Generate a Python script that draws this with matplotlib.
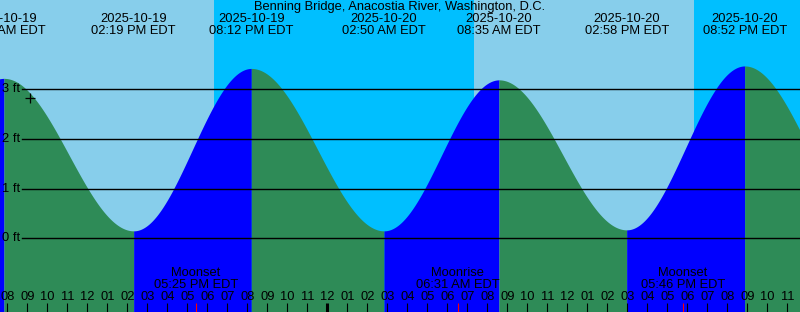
import numpy as np
import pandas as pd
import matplotlib
matplotlib.use("Agg")
import matplotlib.pyplot as plt
import matplotlib.transforms as mtransforms

plt.rcParams['font.family'] = ['Liberation Sans', 'DejaVu Sans']

title = "Benning Bridge, Anacostia River, Washington, D.C."

# tide extremes (first and last are off-chart, only used for the curve ends)
tide_times = ["2025-10-19 01:40", "2025-10-19 07:50", "2025-10-19 14:19", "2025-10-19 20:12",
              "2025-10-20 02:50", "2025-10-20 08:35", "2025-10-20 14:58", "2025-10-20 20:52",
              "2025-10-21 03:20"]
tide_heights = [0.15, 3.22, 0.15, 3.42, 0.15, 3.19, 0.17, 3.47, 0.12]
tide_labels = [None, "07:50 AM EDT", "02:19 PM EDT", "08:12 PM EDT", "02:50 AM EDT",
               "08:35 AM EDT", "02:58 PM EDT", "08:52 PM EDT", None]

# night spans (sunset -> sunrise)
night_start = ["2025-10-19 18:20", "2025-10-20 18:20"]
night_end = ["2025-10-20 07:20", "2025-10-21 07:20"]

moon_times = ["2025-10-19 17:25", "2025-10-20 06:31", "2025-10-20 17:46"]
moon_events = ["Moonset", "Moonrise", "Moonset"]
moon_labels = ["05:25 PM EDT", "06:31 AM EDT", "05:46 PM EDT"]

now_time = "2025-10-19 09:08"
now_height = 2.83

ft_levels = [0, 1, 2, 3]

start = pd.Timestamp("2025-10-19 08:00")
def hrs(s):
    return (pd.Timestamp(s) - start) / pd.Timedelta(hours=1)

W, H = 800, 312
fig = plt.figure(figsize=(8, 3.12), dpi=100)
ax = fig.add_axes([0, 0, 1, 1])
ax.set_axis_off()
x0, x1 = -7.3 / 20, (800 - 7.3) / 20
y_top, y_bot = 238.3 / 49.67, -(312 - 238.3) / 49.67
ax.set_xlim(x0, x1)
ax.set_ylim(y_bot, y_top)

def py(p):  # pixel row -> axes fraction
    return 1 - p / H

blend = mtransforms.blended_transform_factory(ax.transData, ax.transAxes)

# sky
ax.axvspan(x0, x1, color='#87CEEB', lw=0, zorder=0)
for a, b in zip(night_start, night_end):
    ax.axvspan(hrs(a), hrs(b), color='#00BFFF', lw=0, zorder=0)

# tide curve, half-cosine between extremes
tt = [hrs(s) for s in tide_times]
for i in range(len(tt) - 1):
    ta, tb = tt[i], tt[i + 1]
    ha, hb = tide_heights[i], tide_heights[i + 1]
    t = np.linspace(ta, tb, 200)
    h = ha + (hb - ha) * (1 - np.cos(np.pi * (t - ta) / (tb - ta))) / 2
    col = '#0000FF' if hb > ha else '#2E8B57'
    ax.fill_between(t, y_bot, h, color=col, lw=0, zorder=1)

# height lines
for lv in ft_levels:
    ax.plot([22 / 20 - 7.3 / 20, x1], [lv, lv], color='black', lw=1, zorder=3)
    ax.text(20 / 20 - 7.3 / 20, lv, f"{lv} ft", ha='right', va='center', fontsize=9.3, zorder=4)

# title and tide labels
fig.text(0.5, py(7), title, ha='center', va='center', fontsize=9.3)
for t, s, lab in zip(tt, tide_times, tide_labels):
    if lab is None:
        continue
    ax.text(t, py(19), s[:10], ha='center', va='center', fontsize=9.3, transform=blend)
    ax.text(t, py(31), lab, ha='center', va='center', fontsize=9.3, transform=blend)

# hour ticks
for k in range(-1, 41):
    hour = (8 + k) % 24
    lab = f"{(hour % 12) or 12:02d}"
    ax.text(k, py(297), lab, ha='center', va='center', fontsize=9.3, transform=blend)
    ax.plot([k, k], [py(303), py(312)], color='black', lw=2.2 if hour == 0 else 0.8,
            transform=blend, zorder=5, solid_capstyle='butt')

# moon events
for s, ev, lab in zip(moon_times, moon_events, moon_labels):
    t = hrs(s)
    ax.text(t, py(273), ev, ha='center', va='center', fontsize=9.3, transform=blend)
    ax.text(t, py(285), lab, ha='center', va='center', fontsize=9.3, transform=blend)
    ax.plot([t, t], [py(303), py(312)], color='red', lw=0.8, transform=blend, zorder=6,
            solid_capstyle='butt')

# current time marker
ax.plot([hrs(now_time)], [now_height], marker='+', color='black', ms=6.5, mew=0.9, zorder=7)

fig.savefig("out.png", dpi=100)
